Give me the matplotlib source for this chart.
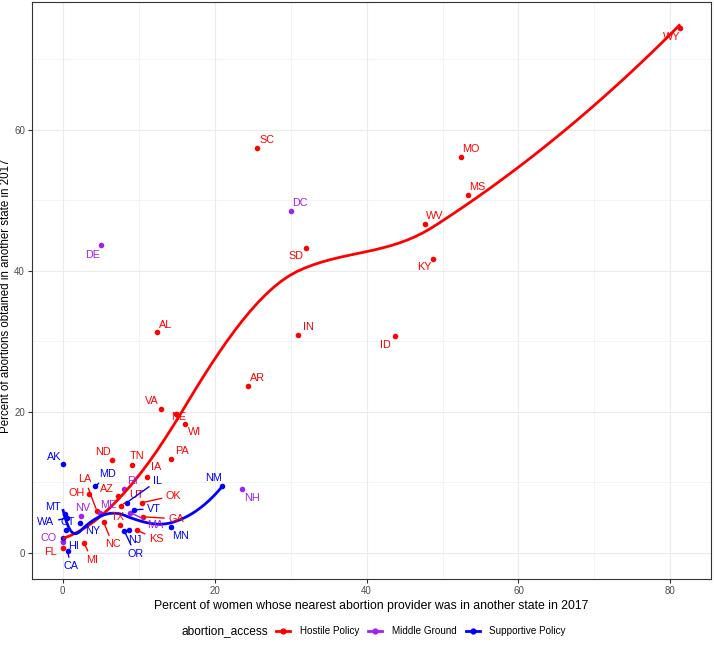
import numpy as np
import matplotlib
matplotlib.use("Agg")
import matplotlib.pyplot as plt
from matplotlib.lines import Line2D

plt.rcParams['font.family'] = ['Liberation Sans', 'DejaVu Sans']

# state, % women whose nearest provider is out of state, % abortions obtained out of state
hostile_states = ["FL", "MI", "NC", "LA", "OH", "AZ", "UT", "TX", "GA", "OK", "KS",
                  "IA", "ND", "TN", "PA", "VA", "NE", "WI", "AL", "AR", "SC", "IN",
                  "SD", "ID", "WV", "KY", "MO", "MS", "WY"]
hostile_x = [0.0, 2.8, 5.4, 4.5, 3.5, 7.3, 7.7, 7.6, 10.6, 10.4, 9.8,
             11.1, 6.5, 9.1, 14.3, 12.9, 14.9, 16.1, 12.4, 24.4, 25.6, 31.0,
             32.0, 43.7, 47.7, 48.8, 52.4, 53.3, 81.3]
hostile_y = [0.7, 1.4, 4.3, 5.9, 8.3, 8.0, 6.7, 3.9, 5.1, 7.1, 3.2,
             10.8, 13.2, 12.4, 13.3, 20.4, 19.7, 18.2, 31.3, 23.6, 57.4, 30.9,
             43.2, 30.7, 46.6, 41.7, 56.1, 50.8, 74.4]

middle_states = ["CO", "NV", "ME", "RI", "MA", "NH", "DE", "DC"]
middle_x = [0.0, 2.4, 4.9, 8.1, 8.9, 23.6, 5.1, 30.0]
middle_y = [1.5, 5.2, 5.6, 9.1, 5.7, 9.0, 43.6, 48.4]

support_states = ["AK", "MD", "IL", "VT", "MT", "WA", "CT", "NY", "NJ", "OR",
                  "MN", "NM", "HI", "CA"]
support_x = [0.0, 4.3, 8.4, 9.4, 0.35, 0.55, 0.45, 2.3, 8.7, 8.1,
             14.2, 21.0, 0.0, 0.65]
support_y = [12.6, 9.4, 7.1, 6.1, 5.5, 4.9, 3.2, 4.2, 3.3, 3.1,
             3.6, 9.5, 2.1, 0.2]

groups = ["Hostile Policy", "Middle Ground", "Supportive Policy"]
colors = {"Hostile Policy": "#FF0000", "Middle Ground": "#A020F0",
          "Supportive Policy": "#0000FF"}

# label offsets from the point, in pixels (dx right, dy down)
label_off = {
    "SC": (10, -8), "DC": (9, -8), "SD": (-10, 8), "IN": (10, -8), "ID": (-9, 9),
    "MO": (10, -8), "MS": (10, -8), "WV": (10, -8), "KY": (-9, 8), "WY": (-9, 9),
    "AL": (9, -7), "AR": (9, -8), "VA": (-9, -8), "NE": (3, 3), "WI": (10, 8),
    "PA": (11, -8), "ND": (-9, -8), "TN": (5, -9), "IA": (9, -10), "AK": (-9, -7),
    "MD": (12, -12), "LA": (-12, -32), "OH": (-13, -1), "AZ": (-11, -7),
    "RI": (8, -8), "IL": (31, -22), "UT": (15, -11), "OK": (32, -7),
    "ME": (8, -8), "VT": (20, -1), "NV": (2, -8), "MT": (-12, -7), "WA": (-21, 4),
    "CT": (2, -8), "NY": (12, 8), "TX": (-3, -8), "MA": (25, 12), "GA": (33, 2),
    "MN": (10, 9), "NC": (9, 22), "NJ": (6, 10), "OR": (11, 23), "KS": (19, 9),
    "NM": (-9, -8), "NH": (10, 9), "CO": (-14, -4), "FL": (-12, 4), "HI": (11, 8),
    "CA": (3, 15), "MI": (8, 17), "DE": (-9, 10),
}


def local_fit(x, y, x0, q):
    # local quadratic with tricube weights, returns value and slope at x0
    d = np.abs(x - x0)
    h = np.sort(d)[q - 1]
    w = (1 - np.clip(d / h, 0, 1) ** 3) ** 3
    X = np.column_stack([np.ones(len(x)), x - x0, (x - x0) ** 2])
    sw = np.sqrt(w)
    beta = np.linalg.lstsq(X * sw[:, None], y * sw, rcond=None)[0]
    return beta[0], beta[1]


def loess(x, y, grid, span=0.75, cell=0.2):
    # like R's loess(): fits at kd-tree vertices, cubic Hermite in between
    x = np.asarray(x, float)
    y = np.asarray(y, float)
    n = len(x)
    q = int(np.floor(n * span))
    fc = int(np.floor(n * span * cell))
    xs = np.sort(x)
    mu = 0.005 * (xs[-1] - xs[0])
    lo, hi = xs[0] - mu, xs[-1] + mu
    verts = {lo, hi}

    def split(l, u, vlo, vhi):  # 1-based, inclusive
        if u - l + 1 <= fc:
            return
        m = (l + u) // 2
        off = 0
        while l <= m + off < u:
            if xs[m + off - 1] == xs[m + off]:
                off = -off
                if off >= 0:
                    off += 1
            else:
                m += off
                break
        t = xs[m - 1]
        if t == vlo or t == vhi:
            return
        verts.add(t)
        split(l, m, vlo, t)
        split(m + 1, u, t, vhi)

    split(1, n, lo, hi)
    v = np.array(sorted(verts))
    vals = np.array([local_fit(x, y, t, q) for t in v])
    out = []
    for g in grid:
        i = min(max(np.searchsorted(v, g) - 1, 0), len(v) - 2)
        x0, x1 = v[i], v[i + 1]
        L = x1 - x0
        h = (g - x0) / L
        phi0 = (1 - h) ** 2 * (1 + 2 * h)
        phi1 = h ** 2 * (3 - 2 * h)
        psi0 = h * (1 - h) ** 2
        psi1 = -h ** 2 * (1 - h)
        out.append(phi0 * vals[i, 0] + phi1 * vals[i + 1, 0]
                   + (psi0 * vals[i, 1] + psi1 * vals[i + 1, 1]) * L)
    return np.array(out)


data = {
    "Hostile Policy": (hostile_states, hostile_x, hostile_y),
    "Middle Ground": (middle_states, middle_x, middle_y),
    "Supportive Policy": (support_states, support_x, support_y),
}

fig = plt.figure(figsize=(7.14, 6.45), dpi=100)
ax = fig.add_axes([0.0448, 0.1023, 0.951, 0.8946])

px = 0.72  # points per pixel at 100 dpi

for g in groups:
    st, xs, ys = data[g]
    ax.scatter(xs, ys, s=16, color=colors[g], zorder=3, linewidths=0)

for g in ["Hostile Policy", "Supportive Policy"]:
    st, xs, ys = data[g]
    grid = np.linspace(min(xs), max(xs), 80)
    ax.plot(grid, loess(xs, ys, grid), color=colors[g], lw=2, zorder=4,
            solid_capstyle='butt')

for g in groups:
    st, xs, ys = data[g]
    for s, x, y in zip(st, xs, ys):
        dx, dy = label_off[s]
        far = np.hypot(dx, dy) > 14
        ax.annotate(s, (x, y), xytext=(dx * px, -dy * px), textcoords='offset points',
                    ha='center', va='center', fontsize=7.8, color=colors[g], zorder=5,
                    arrowprops=dict(arrowstyle='-', color=colors[g], lw=1,
                                    shrinkA=1, shrinkB=2) if far else None)

ax.set_xlim(-4.05, 85.35)
ax.set_ylim(-3.72, 78.1)
ax.set_xticks([0, 20, 40, 60, 80])
ax.set_yticks([0, 20, 40, 60])
ax.set_xticks([10, 30, 50, 70], minor=True)
ax.set_yticks([10, 30, 50, 70], minor=True)
ax.grid(True, which='major', color='#EBEBEB', lw=0.8)
ax.grid(True, which='minor', color='#EBEBEB', lw=0.4)
ax.set_axisbelow(True)
for sp in ax.spines.values():
    sp.set_color('#333333')
    sp.set_linewidth(0.8)
ax.tick_params(which='major', length=3, width=0.8, color='#333333',
               labelsize=7, labelcolor='#4D4D4D', pad=2)
ax.tick_params(which='minor', length=0)

ax.set_xlabel("Percent of women whose nearest abortion provider was in another state in 2017",
              fontsize=8.8, labelpad=3)
ax.set_ylabel("Percent of abortions obtained in another state in 2017", fontsize=8.3)
ax.yaxis.set_label_coords(-0.030, 0.49)

fig.text(268 / 714, 1 - 631 / 645, "abortion_access", fontsize=8.6, ha='right', va='center')
handles = [Line2D([], [], color=colors[g], lw=2, marker='o', ms=3.5) for g in groups]
fig.legend(handles, groups, ncol=3, loc='center left',
           bbox_to_anchor=(276 / 714, 1 - 631 / 645), frameon=False, fontsize=7.1,
           handlelength=1.42, handletextpad=1.0, columnspacing=0.9, borderpad=0,
           borderaxespad=0)

fig.savefig("out.png", dpi=100)
